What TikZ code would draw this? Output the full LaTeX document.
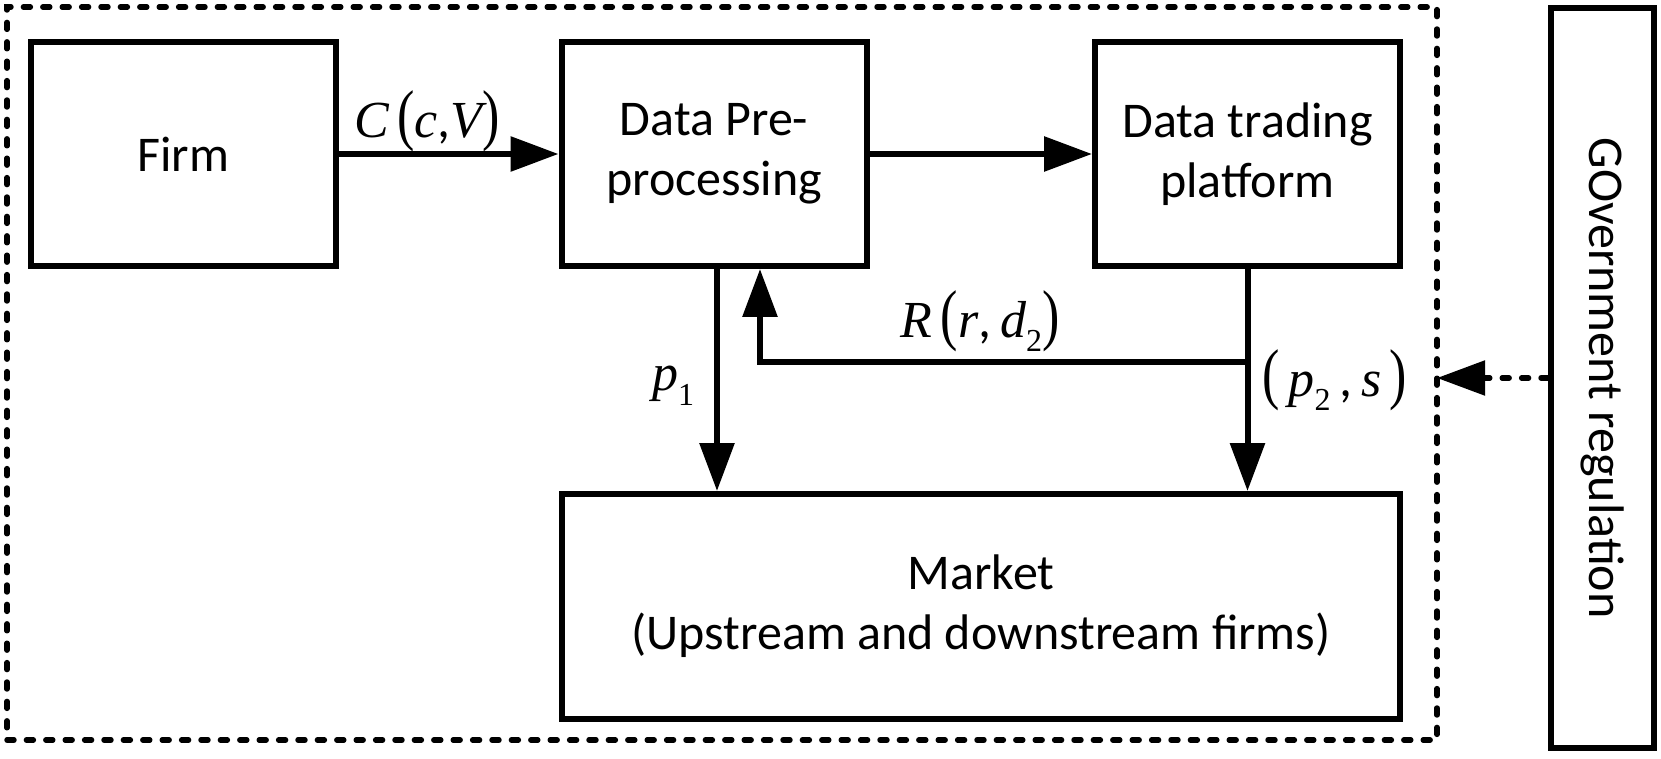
\documentclass[tikz,border=0pt]{standalone}
\usepackage{fontspec}
\usepackage{graphicx}
\setmainfont{Carlito}
\newfontfamily\tms{Liberation Serif}
\usetikzlibrary{arrows.meta}
\newcommand{\mi}[1]{{\tms\itshape #1}}
\newcommand{\lpar}{{\tms\scalebox{1}[1.3]{(}}}
\newcommand{\rpar}{{\tms\scalebox{1}[1.3]{)}}}
\newcommand{\sub}[1]{\raisebox{-0.28em}{\fontsize{16}{16}\selectfont\tms #1}}
\begin{document}
\begin{tikzpicture}[x=0.5pt,y=-0.5pt,
  box/.style={draw, line width=3pt, inner sep=0pt, minimum width=152.5pt, minimum height=112pt, align=center, font=\fontsize{25}{30}\selectfont},
  arr/.style={line width=3pt, -{Triangle[length=24pt,width=17pt]}},
  darr/.style={line width=2.7pt, line cap=round, dash pattern=on 3.5pt off 6.2pt, -{Triangle[length=24pt,width=17pt]}},
  frame/.style={draw, line width=2.7pt, line cap=round, dash pattern=on 3.5pt off 6.2pt, inner sep=0pt, outer sep=0pt},
  lab/.style={inner sep=0pt, font=\fontsize{26}{30}\selectfont}]
\useasboundingbox (0,0) rectangle (1661,759);
\node[frame, minimum width=715pt, minimum height=366.5pt] (outer) at (722,373.5) {};
\node[box] (firm) at (183.5,154) {Firm};
\node[box] (dp) at (714,154) {Data Pre-\\processing};
\node[box] (dtp) at (1247.5,154) {Data trading\\platform};
\node[box, minimum width=419pt, minimum height=112.5pt] (market) at (981,606.5) {Market\\(Upstream and downstream firms)};
\node[box, minimum width=51.5pt, minimum height=370pt] (gov) at (1602.5,378) {};
\node[font=\fontsize{25}{30}\selectfont, rotate=-90, inner sep=0pt] (govtext) at (1603,378) {GOvernment regulation};
\coordinate (rj) at (1247.5,362);
\draw[arr] (firm.east) -- (dp.west);
\draw[arr] (dp.east) -- (dtp.west);
\draw[arr] ([xshift=1.5pt]dp.south) -- ([xshift=1.5pt]dp.south |- market.north);
\draw[arr] (rj) -| ([xshift=23pt]dp.south);
\draw[arr] (dtp.south) -- (dtp.south |- market.north);
\draw[darr] (gov.west) -- (gov.west -| outer.east);
\node[lab] (lc) at (427,121) {\mi{C}\,\lpar\mi{c},\mi{V}\rpar};
\node[lab] (lr) at (980,321) {\mi{R}\,\lpar\mi{r},\,\mi{d}\sub{2}\rpar};
\node[lab] (lp1) at (673,386) {\mi{p}\sub{1}};
\node[lab] (lp2) at (1335,380) {\lpar\,\mi{p}\sub{2}\,,\,\mi{s}\,\rpar};
\end{tikzpicture}
\end{document}
